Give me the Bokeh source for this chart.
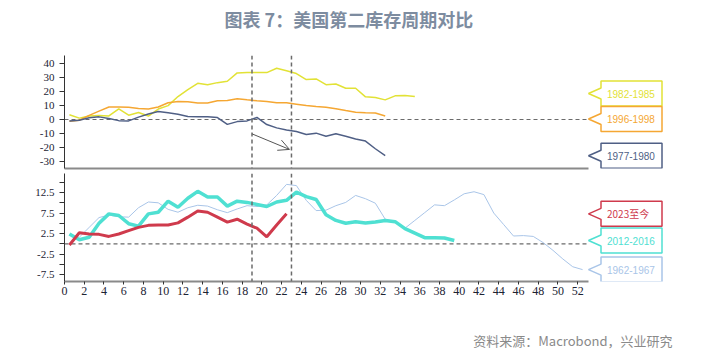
import numpy as np
from bokeh.plotting import figure
from bokeh.layouts import column
from bokeh.models import Range1d, FixedTicker, Span, Arrow, OpenHead
from bokeh.core.properties import value
from bokeh.embed import file_html
from bokeh.resources import INLINE

TITLE = "图表 7：美国第二库存周期对比"
SOURCE = "资料来源：Macrobond，兴业研究"

# ---- data (first point at x = 0.5) ----
s1982_1985 = [3.4, 1.0, 2.6, 2.8, 2.6, 7.7, 3.1, 5.0, 2.5, 7.5, 10.0, 16.5, 21.5, 26.0,
              25.0, 26.5, 27.5, 33.5, 33.8, 33.8, 33.7, 36.8, 35.0, 33.0, 28.7, 29.2,
              25.0, 25.5, 22.5, 22.5, 16.3, 15.8, 14.1, 17.0, 17.2, 16.5]
s1996_1998 = [-1.2, -0.5, 3.0, 6.0, 9.0, 9.0, 8.8, 8.0, 7.6, 9.0, 12.0, 13.0, 12.8, 11.8,
              11.8, 13.5, 13.7, 15.0, 14.2, 13.5, 13.0, 12.0, 12.0, 11.0, 10.0, 9.3, 8.8,
              7.8, 6.5, 5.3, 4.8, 4.7, 2.5]
s1977_1980 = [-1.0, -0.5, 1.2, 1.9, 0.8, -0.8, -1.0, 1.7, 4.0, 5.7, 4.8, 3.8, 2.2, 2.0,
              1.9, 1.4, -3.5, -1.5, -1.0, 1.5, -3.6, -6.0, -7.5, -8.6, -10.8, -9.8, -12.0,
              -10.3, -12.0, -14.0, -15.5, -21.0, -26.0]
s2023 = [-0.3, 2.7, 2.4, 2.3, 1.8, 2.4, 3.2, 4.0, 4.5, 4.6, 4.6, 5.1, 6.5, 8.0, 7.7, 6.5,
         5.3, 6.0, 4.8, 3.8, 1.7, 4.6, 7.3]
s2012_2016 = [2.4, 1.0, 1.6, 5.0, 7.3, 6.9, 4.9, 4.3, 7.3, 7.7, 10.4, 8.9, 11.1, 12.8, 11.4,
              11.4, 9.2, 10.4, 10.1, 9.6, 9.1, 10.2, 10.6, 12.6, 11.5, 10.8, 7.1, 5.7, 5.0,
              5.4, 5.1, 5.3, 5.7, 5.4, 3.7, 2.6, 1.5, 1.5, 1.4, 0.8]
s1962_1967 = [2.2, 1.6, 4.0, 6.4, 7.0, 6.6, 6.5, 8.8, 10.2, 10.0, 8.4, 7.7, 8.8, 9.4, 9.2,
              8.3, 7.6, 8.5, 9.3, 9.1, 9.5, 11.8, 14.5, 14.2, 10.6, 8.1, 8.2, 9.3, 10.1,
              11.8, 11.0, 9.9, 6.0, 5.4, 3.8, 5.7, 7.6, 9.5, 9.3, 10.7, 12.2, 12.7, 12.0,
              7.5, 4.7, 1.9, 2.0, 1.8, 0.3, -1.6, -3.7, -5.6, -6.3]

TOP_SERIES = [("1982-1985", s1982_1985, "#e2e236", 1.5),
              ("1996-1998", s1996_1998, "#f5a733", 1.5),
              ("1977-1980", s1977_1980, "#4f5f85", 1.5)]
BOTTOM_SERIES = [("1962-1967", s1962_1967, "#a9c5e8", 1.0),
                 ("2012-2016", s2012_2016, "#4fe0d2", 3.5),
                 ("2023至今", s2023, "#cf3a4c", 3.0)]

MARKER_X = [19, 23]
ARROW_FROM = (19, -10.3)
ARROW_TO = (22.8, -21.5)

TOP_TICKS = [-30, -20, -10, 0, 10, 20, 30, 40]
BOT_TICKS = [-7.5, -5.0, -2.5, 0.0, 2.5, 5.0, 7.5, 10.0, 12.5, 15.0]
BOT_LABELED = [-7.5, -2.5, 2.5, 7.5, 12.5]
X_TICKS = list(range(0, 53, 2))

# ---- layout (pixels) ----
W = 696
BL, BR = 64, 6
AXIS_END = 53.1
AXIS_PX = 524
FRAME_W = W - BL - BR
X_END = AXIS_END * FRAME_W / AXIS_PX
XPU = AXIS_PX / AXIS_END

HEAD_H = 36
TITLE_POS = (224, 18)          # left edge (page px), vertical centre within the head strip
TOP_H, TOP_BT, TOP_BB = 136, 19, 4
TOP_Y = (-35.2, 46.0)
BOT_H, BOT_BT, BOT_BB = 133, 1, 24
BOT_Y = (-9.2, 17.15)
FOOT_H = 47
SOURCE_POS = (672, 35)         # right edge (page px), vertical centre within the foot strip

BOX_H, BOX_GAP, NOTCH_H, NOTCH_W, BOX_W, TEXT_PAD = 25, 0.5, 5.5, 12.5, 61, 6

AX_COLOR = "#333333"
DASH_COLOR = "#6b6b6b"
TICK_FONT = "Liberation Serif"

x_range = Range1d(0, X_END)


def strip(height, text, pos, align, size, color, style):
    p = figure(width=W, height=height, x_range=Range1d(BL, W - BR), y_range=Range1d(height, 0),
               output_backend="svg", toolbar_location=None,
               x_axis_location=None, y_axis_location=None,
               min_border_left=BL, min_border_right=BR, min_border_top=0, min_border_bottom=0)
    p.xgrid.visible = False
    p.ygrid.visible = False
    p.outline_line_color = None
    p.text(x=[pos[0]], y=[pos[1]], text=[text], text_font=value("Noto Sans CJK SC"),
           text_font_size=size, text_font_style=style, text_color=color,
           text_align=align, text_baseline="middle")
    return p


def style(p, yticks, overrides):
    p.xgrid.visible = False
    p.ygrid.visible = False
    p.outline_line_color = None
    p.background_fill_color = "white"
    p.border_fill_color = "white"
    ya = p.yaxis[0]
    ya.ticker = FixedTicker(ticks=yticks, minor_ticks=[])
    ya.major_label_overrides = overrides
    ya.axis_line_color = AX_COLOR
    ya.major_tick_line_color = AX_COLOR
    ya.major_tick_out = 5
    ya.major_tick_in = 0
    ya.minor_tick_out = 0
    ya.minor_tick_in = 0
    ya.major_label_standoff = 5
    ya.major_label_text_font = TICK_FONT
    ya.major_label_text_font_size = "11px"
    ya.major_label_text_color = "#1c2333"
    xa = p.xaxis[0]
    xa.bounds = (0, AXIS_END)
    xa.axis_line_color = "#8a8a8a"
    xa.axis_line_width = 2
    xa.minor_tick_out = 0
    xa.minor_tick_in = 0


def centers(last_vals, ppu):
    c = list(last_vals)
    order = sorted(range(len(c)), key=lambda i: -c[i])
    need = (BOX_H + BOX_GAP) / ppu
    for _ in range(6):
        for a, b in zip(order, order[1:]):
            gap = c[a] - c[b]
            if gap < need:
                d = (need - gap) / 2
                c[a] += d
                c[b] -= d
    return c


def callouts(p, series, ppu):
    cs = centers([s[1][-1] for s in series], ppu)
    left = AXIS_END + NOTCH_W / XPU
    right = left + BOX_W / XPU
    hh = (BOX_H / 2) / ppu
    nh = NOTCH_H / ppu
    for (name, vals, color, _), c in zip(series, cs):
        xs = [left, right, right, left, left, AXIS_END, left]
        ys = [c + hh, c + hh, c - hh, c - hh, c - nh, c, c + nh]
        p.patch(xs, ys, fill_color="white", line_color=color, line_width=1.5)
        font = "Noto Sans CJK SC" if any(ord(ch) > 127 for ch in name) else "Liberation Sans"
        p.text(x=[left + TEXT_PAD / XPU], y=[c], text=[name], text_color=color,
               text_font=value(font), text_font_size="10px",
               text_baseline="middle", text_align="left")


head = strip(HEAD_H, TITLE, TITLE_POS, "left", "18px", "#7d8ca0", "bold")

# ---- top panel ----
top = figure(width=W, height=TOP_H, x_range=x_range, y_range=Range1d(*TOP_Y),
             output_backend="svg", toolbar_location=None,
             min_border_left=BL, min_border_right=BR,
             min_border_top=TOP_BT, min_border_bottom=TOP_BB)
style(top, TOP_TICKS, {t: f"{t:g}" for t in TOP_TICKS})
top.xaxis[0].ticker = FixedTicker(ticks=[], minor_ticks=[])
top.xaxis[0].major_tick_out = 0
top.xaxis[0].major_tick_in = 0
top.xaxis[0].major_label_standoff = 0

for xv in MARKER_X:
    top.add_layout(Span(location=xv, dimension="height", line_color=DASH_COLOR,
                        line_dash="4 3", line_width=1.5))
top.line([0, AXIS_END], [0, 0], line_color=DASH_COLOR, line_dash="4 3", line_width=1.2)

for name, vals, color, lw in TOP_SERIES:
    xs = np.arange(len(vals)) + 0.5
    top.line(xs, vals, line_color=color, line_width=lw)

top.add_layout(Arrow(end=OpenHead(line_color="#555555", line_width=1, size=11),
                     x_start=ARROW_FROM[0], y_start=ARROW_FROM[1],
                     x_end=ARROW_TO[0], y_end=ARROW_TO[1],
                     line_color="#555555", line_width=1))

top_ppu = (TOP_H - TOP_BT - TOP_BB) / (TOP_Y[1] - TOP_Y[0])
callouts(top, TOP_SERIES, top_ppu)

# ---- bottom panel ----
bot = figure(width=W, height=BOT_H, x_range=x_range, y_range=Range1d(*BOT_Y),
             output_backend="svg", toolbar_location=None,
             min_border_left=BL, min_border_right=BR,
             min_border_top=BOT_BT, min_border_bottom=BOT_BB)
style(bot, BOT_TICKS, {t: (f"{t:g}" if t in BOT_LABELED else "") for t in BOT_TICKS})
xa = bot.xaxis[0]
xa.ticker = FixedTicker(ticks=X_TICKS, minor_ticks=[])
xa.major_tick_out = 3
xa.major_tick_in = 0
xa.major_tick_line_color = AX_COLOR
xa.major_label_standoff = 2
xa.major_label_text_font = TICK_FONT
xa.major_label_text_font_size = "12px"
xa.major_label_text_color = "#1c2333"

for xv in MARKER_X:
    bot.add_layout(Span(location=xv, dimension="height", line_color=DASH_COLOR,
                        line_dash="4 3", line_width=1.5))
bot.line([0, AXIS_END], [0, 0], line_color=DASH_COLOR, line_dash="4 3", line_width=1.2)

for name, vals, color, lw in BOTTOM_SERIES:
    xs = np.arange(len(vals)) + 0.5
    bot.line(xs, vals, line_color=color, line_width=lw)

bot_ppu = (BOT_H - BOT_BT - BOT_BB) / (BOT_Y[1] - BOT_Y[0])
callouts(bot, list(reversed(BOTTOM_SERIES)), bot_ppu)

foot = strip(FOOT_H, SOURCE, SOURCE_POS, "right", "13px", "#8a8a8a", "normal")

layout = column(head, top, bot, foot, spacing=0)
open("out.html", "w").write(file_html(layout, INLINE))
